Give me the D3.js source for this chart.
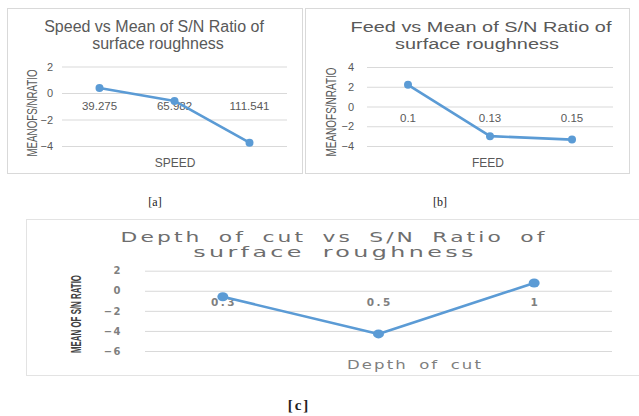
<!DOCTYPE html>
<html>
<head>
<meta charset="utf-8">
<script src="https://cdn.jsdelivr.net/npm/d3@7"></script>
<style>
  html, body { margin: 0; padding: 0; background: #fff; }
  svg { display: block; }
</style>
</head>
<body>
<svg id="c" width="639" height="416"></svg>
<script>
// ---- data ----
const speedCats = ["39.275", "65.982", "111.541"];
const speedVals = [0.38, -0.6, -3.75];
const speedTicks = [-4, -2, 0, 2];

const feedCats = ["0.1", "0.13", "0.15"];
const feedVals = [2.2, -3.0, -3.35];
const feedTicks = [-4, -2, 0, 2, 4];

const docCats = ["0.3", "0.5", "1"];
const docVals = [-0.6, -4.3, 0.78];
const docTicks = [-6, -4, -2, 0, 2];

const titleA = ["Speed vs Mean of S/N Ratio of", "surface roughness"];
const titleB = ["Feed vs Mean of S/N Ratio of", "surface roughness"];
const titleC = ["Depth of cut vs S/N Ratio of", "surface roughness"];
const yTitleAB = "MEANOFS/NRATIO";
const yTitleC = "MEAN OF S/N RATIO";
const xTitles = ["SPEED", "FEED", "Depth of cut"];
const captions = ["[a]", "[b]", "[c]"];

const svg = d3.select("#c");
const BLUE = "#5B9BD5";

// chart frames
svg.append("rect").attr("x", 7.5).attr("y", 8.5).attr("width", 295).attr("height", 165)
  .attr("fill", "#fff").attr("stroke", "#d9d9d9");
svg.append("rect").attr("x", 305.5).attr("y", 8.5).attr("width", 324).attr("height", 165)
  .attr("fill", "#fff").attr("stroke", "#d9d9d9");
svg.append("rect").attr("x", 26.5).attr("y", 219.5).attr("width", 640).attr("height", 156)
  .attr("fill", "#fff").attr("stroke", "#e3e3e3");

// text stretched horizontally to a target width (wide-font look)
function wideText(g, str, cx, cy, width, style) {
  const t = g.append("text").attr("text-anchor", "middle")
    .attr("fill", style.color)
    .style("font-family", style.font).style("font-size", style.size + "px")
    .style("letter-spacing", (style.ls || 0) + "px")
    .style("word-spacing", (style.ws || 0) + "px")
    .text(str);
  const w = t.node().getComputedTextLength();
  const s = width / w;
  t.attr("transform", `translate(${cx},${cy}) scale(${s},1)`);
  return t;
}

function drawChart(o) {
  const g = svg.append("g");
  const x = d3.scalePoint().domain(o.cats).range(o.xr).padding(0.5);
  const y = d3.scaleLinear().domain(o.yd).range(o.yr);

  // grid + tick labels
  const ax = g.append("g").attr("transform", `translate(${o.xr[0]},0)`)
    .call(d3.axisLeft(y).tickValues(o.ticks).tickSize(-(o.xr[1] - o.xr[0]))
      .tickPadding(o.tickPad).tickFormat(d3.format("d")));
  ax.select(".domain").remove();
  ax.selectAll(".tick line").attr("stroke", "#d9d9d9").attr("stroke-width", 1);
  ax.selectAll(".tick text").attr("fill", o.tickColor).style("font-family", o.tickFont)
    .style("font-size", o.tickSize + "px").style("font-weight", o.tickWeight || "normal")
    .style("letter-spacing", (o.tickLS || 0) + "px");

  // category labels near y=0
  g.selectAll("text.cat").data(o.cats).join("text").attr("class", "cat")
    .attr("x", d => x(d) + (o.catLS || 0) / 2).attr("y", y(0) + o.catDy)
    .attr("text-anchor", "middle").attr("fill", o.tickColor)
    .style("font-family", o.catFont).style("font-size", o.catSize + "px")
    .style("font-weight", o.catWeight || "normal")
    .style("letter-spacing", (o.catLS || 0) + "px")
    .text(d => d);

  // line
  const data = o.cats.map((c, i) => [c, o.vals[i]]);
  g.append("path").datum(data)
    .attr("d", d3.line().x(d => x(d[0])).y(d => y(d[1])))
    .attr("fill", "none").attr("stroke", BLUE).attr("stroke-width", 2.6)
    .attr("stroke-linejoin", "round");
  g.selectAll("ellipse.pt").data(data).join("ellipse").attr("class", "pt")
    .attr("cx", d => x(d[0])).attr("cy", d => y(d[1]))
    .attr("rx", o.rx).attr("ry", o.ry).attr("fill", BLUE);

  // title
  o.title.forEach((t, i) => {
    if (o.titleLen) {
      wideText(g, t, o.titleX[i], o.titleY[i], o.titleLen[i],
        { color: o.titleColor, font: o.titleFont, size: o.titleSize, ls: o.titleLS, ws: o.titleWS });
    } else {
      g.append("text").attr("x", o.titleX[i]).attr("y", o.titleY[i])
        .attr("text-anchor", "middle").attr("fill", o.titleColor)
        .style("font-family", o.titleFont).style("font-size", o.titleSize + "px")
        .text(t);
    }
  });

  // y title
  g.append("text").attr("transform", `translate(${o.yTitlePos[0]},${o.yTitlePos[1]}) rotate(-90)`)
    .attr("text-anchor", "middle").attr("dominant-baseline", "central")
    .attr("fill", o.yTitleColor)
    .style("font-family", "Liberation Sans, Arial, sans-serif")
    .style("font-size", o.yTitleSize + "px").style("font-weight", o.yTitleWeight || "normal")
    .attr("textLength", o.yTitleLen).attr("lengthAdjust", "spacingAndGlyphs")
    .text(o.yTitle);

  // x title
  if (o.xTitleLen) {
    wideText(g, o.xTitle, o.xTitlePos[0], o.xTitlePos[1], o.xTitleLen,
      { color: o.xTitleColor, font: o.xTitleFont, size: o.xTitleSize, ls: o.xTitleLS, ws: o.xTitleWS });
  } else {
    g.append("text").attr("x", o.xTitlePos[0]).attr("y", o.xTitlePos[1])
      .attr("text-anchor", "middle").attr("fill", o.xTitleColor)
      .style("font-family", o.xTitleFont).style("font-size", o.xTitleSize + "px")
      .text(o.xTitle);
  }
}

const arial = "Liberation Sans, Arial, sans-serif";
const dejavu = "DejaVu Sans, Verdana, sans-serif";

drawChart({
  cats: speedCats, vals: speedVals, ticks: speedTicks,
  xr: [62, 287], yd: [-4, 2], yr: [146, 66.5], tickPad: 9,
  tickColor: "#595959", tickFont: arial, tickSize: 11,
  catFont: arial, catSize: 11.5, catDy: 17,
  rx: 4, ry: 4,
  title: titleA, titleX: [154, 158], titleY: [32, 49], titleColor: "#595959",
  titleFont: arial, titleSize: 16,
  yTitle: yTitleAB, yTitlePos: [32, 113], yTitleSize: 14, yTitleLen: 87, yTitleColor: "#595959",
  xTitle: xTitles[0], xTitlePos: [175, 167], xTitleColor: "#595959", xTitleFont: arial, xTitleSize: 12
});

drawChart({
  cats: feedCats, vals: feedVals, ticks: feedTicks,
  xr: [367, 613], yd: [-4, 4], yr: [146, 67], tickPad: 13,
  tickColor: "#595959", tickFont: arial, tickSize: 11,
  catFont: arial, catSize: 11.5, catDy: 15,
  rx: 4, ry: 4,
  title: titleB, titleX: [481, 477], titleY: [32, 49], titleColor: "#595959",
  titleFont: arial, titleSize: 15.5, titleLen: [261, 164],
  yTitle: yTitleAB, yTitlePos: [331, 112], yTitleSize: 14, yTitleLen: 89, yTitleColor: "#595959",
  xTitle: xTitles[1], xTitlePos: [488, 167], xTitleColor: "#595959", xTitleFont: arial, xTitleSize: 12
});

drawChart({
  cats: docCats, vals: docVals, ticks: docTicks,
  xr: [145, 612], yd: [-6, 2], yr: [351, 270.7], tickPad: 23,
  tickColor: "#7f7f7f", tickFont: dejavu, tickSize: 10, tickWeight: "bold", tickLS: 1.5,
  catFont: dejavu, catSize: 10.5, catWeight: "bold", catLS: 2.5, catDy: 15,
  rx: 5.5, ry: 4.5,
  title: titleC, titleX: [334, 335], titleY: [241.5, 257], titleColor: "#6e6e6e",
  titleFont: dejavu, titleSize: 14, titleLS: 2, titleWS: 4, titleLen: [427, 284],
  yTitle: yTitleC, yTitlePos: [75, 314], yTitleSize: 15, yTitleWeight: "bold", yTitleLen: 78, yTitleColor: "#404040",
  xTitle: xTitles[2], xTitlePos: [415, 369], xTitleColor: "#7f7f7f", xTitleFont: dejavu, xTitleSize: 12,
  xTitleLS: 1.5, xTitleWS: 3, xTitleLen: 136
});

// captions
const serif = "Liberation Serif, Times New Roman, serif";
svg.append("text").attr("x", 155).attr("y", 206).attr("text-anchor", "middle")
  .attr("fill", "#222").style("font-family", serif)
  .style("font-size", "12px").text(captions[0]);
svg.append("text").attr("x", 440).attr("y", 206).attr("text-anchor", "middle")
  .attr("fill", "#222").style("font-family", serif)
  .style("font-size", "12px").text(captions[1]);
svg.append("text").attr("x", 299).attr("y", 410).attr("text-anchor", "middle")
  .attr("fill", "#222").style("font-family", serif)
  .style("font-size", "15px").style("font-weight", "bold").style("letter-spacing", "2px")
  .text(captions[2]);
</script>
</body>
</html>
